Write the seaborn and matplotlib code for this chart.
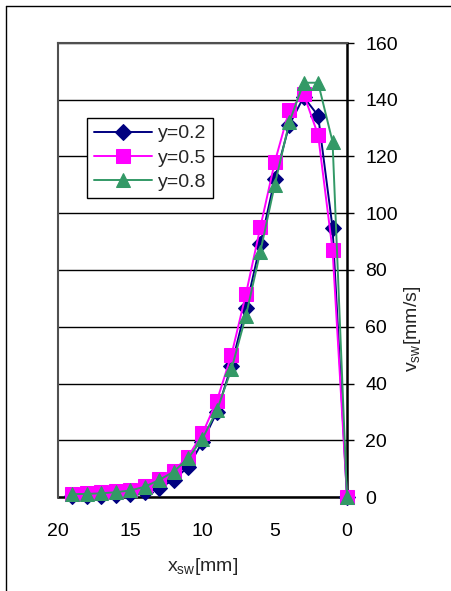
import matplotlib
matplotlib.use("Agg")
import matplotlib.pyplot as plt
import seaborn as sns
import pandas as pd
from matplotlib.lines import Line2D

x_mm = [19, 18, 17, 16, 15, 14, 13, 12, 11, 10, 9, 8, 7, 6, 5, 4, 3, 2, 1, 0]
v_y02 = [0.3, 0.4, 0.5, 0.7, 1.0, 1.8, 3.2, 6.0, 10.6, 19.4, 30.0, 46.3, 66.5, 89.0, 112.0, 131.0, 141.0, 134.4, 94.9, 0.0]
v_y05 = [1.2, 1.3, 1.6, 2.0, 2.6, 3.9, 6.3, 9.3, 14.2, 22.4, 34.0, 50.0, 71.4, 95.0, 118.0, 136.3, 142.0, 127.6, 87.0, 0.0]
v_y08 = [1.0, 1.1, 1.3, 1.7, 2.3, 3.6, 6.0, 8.9, 13.6, 20.6, 30.6, 45.0, 63.8, 86.4, 110.0, 132.0, 146.0, 146.0, 125.2, 0.0]
series_labels = ["y=0.2", "y=0.5", "y=0.8"]
x_ticks = [20, 15, 10, 5, 0]
y_ticks = [0, 20, 40, 60, 80, 100, 120, 140, 160]

sns.set_style("white")
plt.rcParams["font.family"] = ["Liberation Sans", "DejaVu Sans"]
plt.rcParams["mathtext.fontset"] = "custom"
plt.rcParams["mathtext.rm"] = "Liberation Sans"
plt.rcParams["mathtext.it"] = "Liberation Sans"

df = pd.DataFrame({
    "x": x_mm * 3,
    "v": v_y02 + v_y05 + v_y08,
    "series": [series_labels[0]] * len(x_mm) + [series_labels[1]] * len(x_mm) + [series_labels[2]] * len(x_mm),
})

fig = plt.figure(figsize=(4.51, 5.91), dpi=100)
ax = fig.add_axes([58 / 451, 1 - 497 / 591, (347 - 58) / 451, (497 - 43) / 591])

colors = {"y=0.2": "#000080", "y=0.5": "#FF00FF", "y=0.8": "#339966"}
markers = {"y=0.2": "D", "y=0.5": "s", "y=0.8": "^"}
msizes = {"y=0.2": 8.5, "y=0.5": 10.5, "y=0.8": 10.5}

for i, lab in enumerate(series_labels):
    sub = df[df["series"] == lab]
    sns.lineplot(data=sub, x="x", y="v", ax=ax, sort=False, color=colors[lab],
                 marker=markers[lab], markersize=msizes[lab], markeredgecolor=colors[lab],
                 linewidth=1.4, label=lab, zorder=3 + i, clip_on=False)

ax.set_xlim(20, 0)
ax.set_ylim(0, 160)
ax.set_xticks(x_ticks)
ax.set_yticks(y_ticks)
ax.yaxis.tick_right()
ax.yaxis.set_label_position("right")
ax.grid(axis="y", color="black", linewidth=1.0)
ax.grid(axis="x", visible=False)
ax.set_axisbelow(True)

ax.tick_params(axis="x", direction="in", length=5, width=1, labelsize=14, pad=19, colors="black")
ax.tick_params(axis="y", direction="out", length=5, width=1, labelsize=14, pad=8, colors="black",
               right=True, left=False)

for s in ["left", "top"]:
    ax.spines[s].set_color("#505050")
    ax.spines[s].set_linewidth(1.5)
for s in ["right", "bottom"]:
    ax.spines[s].set_color("black")
    ax.spines[s].set_linewidth(1.8)
    ax.spines[s].set_zorder(2)

ax.set_xlabel(r"x$_\mathrm{sw}$[mm]", fontsize=14, labelpad=11)
ax.set_ylabel(r"v$_\mathrm{sw}$[mm/s]", fontsize=14, rotation=90)
ax.yaxis.set_label_coords(1.19, 0.37)

leg = ax.legend(loc="upper left", bbox_to_anchor=(29 / 289, 1 - 75 / 454), fontsize=14,
                frameon=True, fancybox=False, framealpha=1, edgecolor="black",
                handlelength=3.0, borderpad=0.35, labelspacing=0.35, handletextpad=0.3,
                borderaxespad=0)
leg.get_frame().set_linewidth(1.0)
leg.set_zorder(20)

fig.add_artist(Line2D([6 / 451, 6 / 451], [0, 1 - 6 / 591], color="black", linewidth=1.0))
fig.add_artist(Line2D([6 / 451, 1], [1 - 6 / 591, 1 - 6 / 591], color="black", linewidth=1.0))

fig.savefig("out.png", dpi=100)
